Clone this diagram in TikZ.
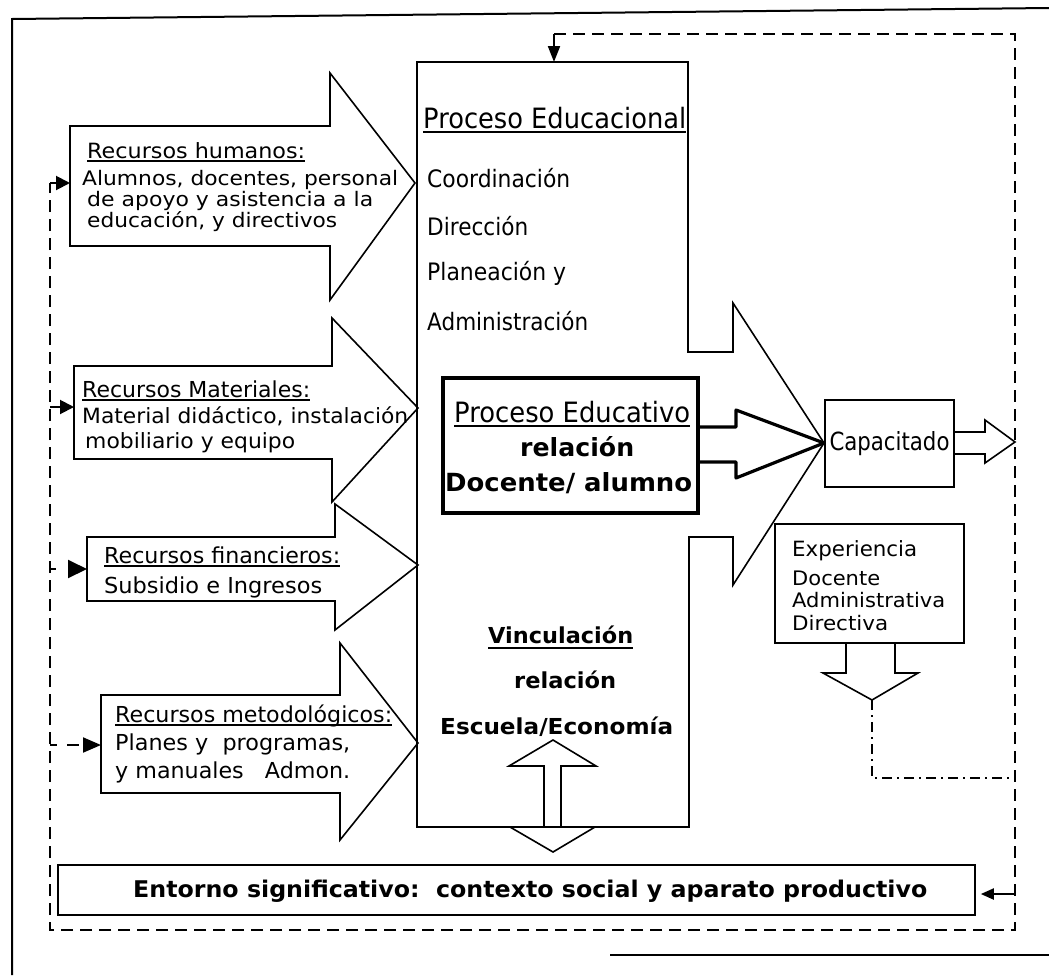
\documentclass[tikz,border=0pt]{standalone}
\usepackage{fontspec}
\usepackage{graphicx}
\setmainfont{DejaVu Sans}
\usetikzlibrary{arrows.meta}

% text helpers: font size, fit a line to a given width, thick underline
\newcommand\fs[1]{\fontsize{#1}{#1}\selectfont}
\newcommand\fw[2]{\resizebox{#1pt}{\height}{#2}}
\newsavebox\ulbox
\newcommand\ulw[3]{\sbox\ulbox{#3}\rlap{\rule[-#1pt]{\wd\ulbox}{#2pt}}\usebox\ulbox}

\tikzset{
  frame/.style={line width=2pt},
  blk/.style={draw, line width=1.6pt, line join=miter},
  box/.style={draw, line width=1.6pt, inner sep=0pt},
  heavybox/.style={draw, line width=3.4pt, inner sep=0pt},
  heavy/.style={draw, line width=3.2pt, line join=round},
  fb/.style={line width=2pt, dash pattern=on 12pt off 7pt},
  fbdd/.style={line width=2pt, dash pattern=on 10pt off 5pt on 2pt off 5pt},
  txt/.style={anchor=base west, inner sep=0pt},
}

\begin{document}
\begin{tikzpicture}[x=1pt,y=-1pt]
\useasboundingbox (0,0) rectangle (1049,975);

% outer frame
\draw[frame] (12,975) -- (12,19) -- (1049,8);
\draw[frame] (610,955) -- (1049,955);

% resource block arrows
\draw[blk] (70,126) -- (330,126) -- (330,73) -- (415,183) -- (330,300) -- (330,246) -- (70,246) -- cycle;
\draw[blk] (74,366) -- (332,366) -- (332,318) -- (418,408) -- (332,502) -- (332,459) -- (74,459) -- cycle;
\draw[blk] (87,537) -- (335,537) -- (335,504) -- (418,565) -- (335,630) -- (335,601) -- (87,601) -- cycle;
\draw[blk] (101,695) -- (340,695) -- (340,643) -- (418,743) -- (340,840) -- (340,793) -- (101,793) -- cycle;
\coordinate (humIn) at (70,183);
\coordinate (matIn) at (74,407);
\coordinate (finIn) at (87,569);
\coordinate (metIn) at (101,745);

% resource texts
\node[txt] (hum1) at (87,158) {\fs{21}\fw{218}{\ulw{3.6}{1.6}{Recursos humanos:}}};
\node[txt] (hum2) at (82,185) {\fs{20}\fw{316}{Alumnos, docentes, personal}};
\node[txt] (hum3) at (87,206) {\fs{20}\fw{286}{de apoyo y asistencia a la}};
\node[txt] (hum4) at (87,227) {\fs{20}\fw{250}{educación, y directivos}};

\node[txt] (mat1) at (82,397) {\fs{22}\fw{228}{\ulw{3.6}{1.6}{Recursos Materiales:}}};
\node[txt] (mat2) at (82,423) {\fs{21}\fw{326}{Material didáctico, instalación}};
\node[txt] (mat3) at (85,448) {\fs{21}\fw{210}{mobiliario y equipo}};

\node[txt] (fin1) at (104,563) {\fs{22}\fw{236}{\ulw{3.6}{1.6}{Recursos financieros:}}};
\node[txt] (fin2) at (104,593) {\fs{22}\fw{218}{Subsidio e Ingresos}};

\node[txt] (met1) at (115,722) {\fs{22}\fw{277}{\ulw{3.6}{1.6}{Recursos metodológicos:}}};
\node[txt] (met2) at (115,750) {\fs{22}\fw{235}{Planes y\ \ programas,}};
\node[txt] (met3) at (115,778) {\fs{22}\fw{235}{y manuales\ \ \ Admon.}};

% central process block with its outgoing arrow
\draw[blk] (417,62) -- (688,62) -- (688,352) -- (733,352) -- (733,303) -- (824,443)
  -- (733,585) -- (733,537) -- (689,537) -- (689,827) -- (417,827) -- cycle;
\coordinate (mainTop) at (554,62);

\node[txt] (pe) at (423,128) {\fs{28}\fw{263}{\ulw{4.5}{1.8}{Proceso Educacional}}};
\node[txt] (pe1) at (427,187) {\fs{24}\fw{143}{Coordinación}};
\node[txt] (pe2) at (427,235) {\fs{24}\fw{101}{Dirección}};
\node[txt] (pe3) at (427,280) {\fs{24}\fw{139}{Planeación y}};
\node[txt] (pe4) at (427,330) {\fs{24}\fw{161}{Administración}};

% teaching process box
\node[heavybox, minimum width=255pt, minimum height=135pt] (edu) at (570.5,445.5) {};
\draw[heavy] (698,427) -- (736,427) -- (736,410) -- (824,443) -- (736,478) -- (736,462) -- (698,462);
\node[txt] (edu1) at (454,422) {\fs{28}\fw{236}{\ulw{4.5}{1.8}{Proceso Educativo}}};
\node[txt] (edu2) at (520,456) {\fs{25}\bfseries\fw{114}{relación}};
\node[txt] (edu3) at (445,491) {\fs{25}\bfseries\fw{247}{Docente/ alumno}};

% outcome
\node[box, minimum width=129pt, minimum height=87pt] (cap) at (889.5,443.5) {\fs{25}\fw{120}{Capacitado}};
\draw[blk] (954,432) -- (985,432) -- (985,420) -- (1015,442) -- (985,463) -- (985,454) -- (954,454);

\node[box, minimum width=189pt, minimum height=119pt] (exp) at (869.5,583.5) {};
\node[txt] (exp1) at (792,556) {\fs{21}\fw{125}{Experiencia}};
\node[txt] (exp2) at (792,585) {\fs{20}\fw{88}{Docente}};
\node[txt] (exp3) at (792,607) {\fs{20}\fw{153}{Administrativa}};
\node[txt] (exp4) at (792,630) {\fs{20}\fw{96}{Directiva}};
\draw[blk] (846,643) -- (846,673) -- (823,673) -- (872,700) -- (918,673) -- (895,673) -- (895,643);
\coordinate (expTip) at (872,700);

% link with the economy
\node[txt] (vin1) at (488,643) {\fs{22}\bfseries\fw{145}{\ulw{6}{2.2}{Vinculación}}};
\node[txt] (vin2) at (514,688) {\fs{22}\bfseries\fw{102}{relación}};
\node[txt] (vin3) at (440,734) {\fs{22}\bfseries\fw{233}{Escuela/Economía}};
\draw[blk] (553,740) -- (596,766) -- (561,766) -- (561,827) -- (595,827) -- (553,852)
  -- (510,827) -- (544,827) -- (544,766) -- (509,766) -- cycle;

% environment
\node[box, minimum width=917pt, minimum height=50pt] (ent) at (516.5,890) {};
\node[txt] (entT) at (133,897) {\fs{23}\bfseries\fw{794}{Entorno significativo:\ \ contexto social y aparato productivo}};

% feedback loop
\coordinate (fbT) at (554,34);
\coordinate (fbR) at (1015,34);
\coordinate (fbB) at (1015,930);
\coordinate (fbL) at (50,930);
\coordinate (fbH) at (50,183);
\coordinate (ddC) at (872,778);
\coordinate (ddR) at (1015,778);
\coordinate (entIn) at ([yshift=-4pt]ent.east);

\draw[fb] (fbT) -- (fbR) -- (fbB) -- (fbL) -- (fbH);
\draw[fb, -{Triangle[length=16pt,width=12pt]}] (fbT) -- (mainTop);
\draw[line width=2pt, -{Triangle[length=14pt,width=14pt]}] (fbH) -- (humIn);
\draw[line width=2pt, -{Triangle[length=14pt,width=14pt]}] (fbL |- matIn) -- (matIn);
\draw[line width=2pt, dash pattern=on 6pt off 12pt, -{Triangle[length=19pt,width=18pt]}] (fbL |- finIn) -- (finIn);
\draw[line width=2pt, dash pattern=on 7pt off 10pt on 12pt off 10pt, -{Triangle[length=18pt,width=15pt]}] (fbL |- metIn) -- (metIn);
\draw[line width=2pt, shorten >=5pt, -{Triangle[length=13pt,width=11pt]}] (fbB |- entIn) -- (entIn);
\draw[fbdd] (expTip) -- (ddC) -- (ddR);
\end{tikzpicture}
\end{document}
